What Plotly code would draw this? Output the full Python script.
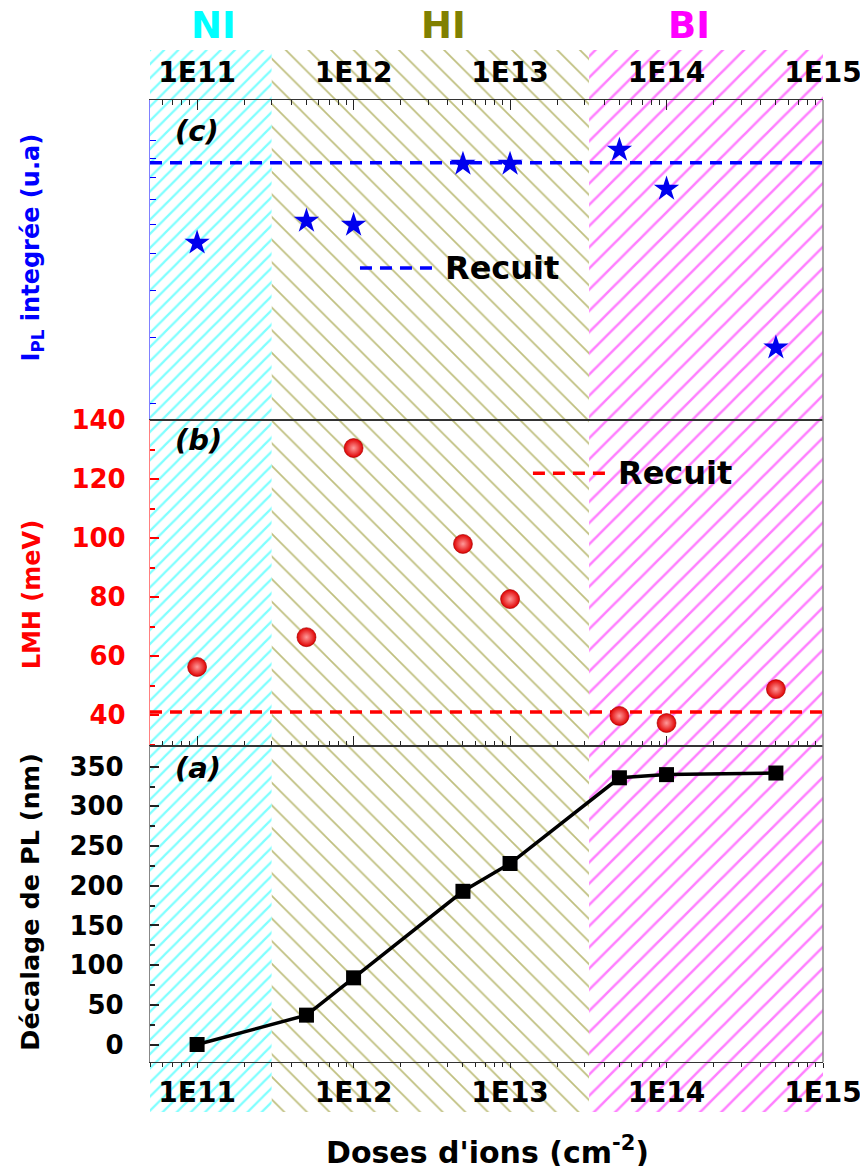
import numpy as np
import plotly.graph_objects as go

# ---------------- data ----------------
doses = [1e11, 5e11, 1e12, 5e12, 1e13, 5e13, 1e14, 5e14]
shift_nm = [0, 37, 84, 193, 228, 336, 340, 342]          # panel (a)
fwhm_mev = [56.3, 66.4, 130.5, 98, 79.3, 39.7, 37.3, 48.8]  # panel (b)
ipl_int = [5.35, 6.12, 5.97, 8.68, 8.68, 9.46, 7.45, 2.81]  # panel (c), u.a
recuit_fwhm = 41
recuit_ipl = 8.74

region_names = ["NI", "HI", "BI"]
region_edges = [5e10, 3e11, 3.2e13, 1e15]
region_label_x = [1.28e11, 3.74e12, 1.4e14]
region_colors = ["#00FFFF", "#808000", "#FF00FF"]
region_patterns = ["/", "\\", "/"]
region_sizes = [10, 16, 15]
region_solidity = [0.22, 0.11, 0.17]

x_tick_vals = [1e11, 1e12, 1e13, 1e14, 1e15]
x_tick_text = ["1E11", "1E12", "1E13", "1E14", "1E15"]
x_minor_vals = [m * 10.0 ** e for e in range(10, 15) for m in range(2, 10)]
ipl_tick_vals = [2, 3, 4, 5, 6, 7, 8, 9, 10]

FONT = "DejaVu Sans"
xr = [np.log10(region_edges[0]), np.log10(region_edges[-1])]

# domains (paper)
dom_a = [0.0471, 0.3446]
dom_b = [0.3446, 0.6516]
dom_c = [0.6516, 0.9529]

fig = go.Figure()

# ---------------- hatched background regions ----------------
for i, name in enumerate(region_names):
    x0, x1 = region_edges[i], region_edges[i + 1]
    fig.add_trace(go.Scatter(
        x=[x0, x1, x1, x0, x0], y=[0, 0, 1, 1, 0],
        xaxis="x", yaxis="y", mode="lines", line=dict(width=0),
        fill="toself", fillcolor="rgba(0,0,0,0)",
        fillpattern=dict(shape=region_patterns[i], fgcolor=region_colors[i],
                         bgcolor="white", size=region_sizes[i],
                         solidity=region_solidity[i]),
        hoverinfo="skip", showlegend=False))

# ---------------- panel (c) ----------------
fig.add_trace(go.Scatter(
    x=[region_edges[0], region_edges[-1]], y=[recuit_ipl, recuit_ipl],
    xaxis="x2", yaxis="y2", mode="lines",
    line=dict(color="#0000FF", width=3.5, dash="12px,8px"), showlegend=False))
fig.add_trace(go.Scatter(
    x=doses, y=ipl_int, xaxis="x2", yaxis="y2", mode="markers",
    marker=dict(symbol="star", size=19, color="#0000EE",
                line=dict(width=0)), showlegend=False))

# ---------------- panel (b) ----------------
fig.add_trace(go.Scatter(
    x=[region_edges[0], region_edges[-1]], y=[recuit_fwhm, recuit_fwhm],
    xaxis="x3", yaxis="y3", mode="lines",
    line=dict(color="#FF0000", width=3.5, dash="12px,8px"), showlegend=False))
fig.add_trace(go.Scatter(
    x=doses, y=fwhm_mev, xaxis="x3", yaxis="y3", mode="markers",
    marker=dict(symbol="circle", size=19, color="#E00000",
                gradient=dict(type="radial", color="#FF9A9A"),
                line=dict(width=0.6, color="#A00000")), showlegend=False))

# ---------------- panel (a) ----------------
fig.add_trace(go.Scatter(
    x=doses, y=shift_nm, xaxis="x4", yaxis="y4", mode="lines+markers",
    line=dict(color="black", width=3.5),
    marker=dict(symbol="square", size=15, color="black"), showlegend=False))

# ---------------- axes ----------------
common_x = dict(type="log", range=xr, domain=[0, 1], showgrid=False,
                zeroline=False, showline=True, linecolor="#333", linewidth=1.2,
                tickvals=x_tick_vals, ticktext=x_tick_text, ticklen=10,
                tickcolor="#222", tickwidth=1.3,
                tickfont=dict(family=FONT, size=28, color="black", weight="bold"),
                minor=dict(tickvals=x_minor_vals, ticklen=5, tickcolor="#222",
                           tickwidth=1, ticks="inside"))

fig.update_layout(
    width=868, height=1158,
    margin=dict(l=142, r=53, t=42, b=54),
    paper_bgcolor="white", plot_bgcolor="rgba(0,0,0,0)",
    showlegend=False,
    xaxis=dict(type="log", range=xr, domain=[0, 1], visible=False, anchor="y"),
    yaxis=dict(range=[0, 1], domain=[0, 1], visible=False, anchor="x"),
    xaxis2=dict(common_x, anchor="y2", side="top", ticks="inside", mirror=True,
                showticklabels=True, ticklabelstandoff=6),
    xaxis3=dict(common_x, anchor="y3", ticks="inside", mirror=True,
                showticklabels=False),
    xaxis4=dict(common_x, anchor="y4", ticks="outside", mirror=True,
                showticklabels=True, ticklen=5, ticklabelstandoff=0,
                minor=dict(tickvals=x_minor_vals, ticklen=4, tickcolor="#222",
                           tickwidth=1, ticks="outside")),
    yaxis2=dict(type="log", range=[0.256, 1.109], domain=dom_c, anchor="x2",
                showgrid=False, zeroline=False, showline=True,
                linecolor="#8080FF", linewidth=1.2, ticks="inside",
                tickvals=ipl_tick_vals, ticklen=6, tickcolor="#0000FF",
                showticklabels=False),
    yaxis3=dict(range=[29.5, 140], domain=dom_b, anchor="x3", showgrid=False,
                zeroline=False, showline=True, linecolor="#FF8080", linewidth=1.2,
                ticks="inside", dtick=20, tick0=0, ticklen=9, tickcolor="#FF0000",
                tickwidth=1.5, ticklabelstandoff=18,
                tickfont=dict(family=FONT, size=26, color="#FF0000", weight="bold"),
                minor=dict(dtick=10, ticks="inside", ticklen=5, tickcolor="#FF0000")),
    yaxis4=dict(range=[-22, 376], domain=dom_a, anchor="x4", showgrid=False,
                zeroline=False, showline=True, linecolor="#888", linewidth=1.2,
                ticks="inside", dtick=50, tick0=0, ticklen=9, tickcolor="#222",
                tickwidth=1.5, ticklabelstandoff=20,
                tickfont=dict(family=FONT, size=26, color="black", weight="bold"),
                minor=dict(dtick=25, ticks="inside", ticklen=5, tickcolor="#222")),
)

# right border line
fig.add_shape(type="line", xref="paper", yref="paper", x0=1, x1=1,
              y0=dom_a[0], y1=dom_c[1], line=dict(color="#888", width=1.5))

# legend keys ("Recuit")
fig.add_shape(type="line", xref="x2 domain", yref="y2 domain",
              x0=0.312, x1=0.419, y0=0.475, y1=0.475,
              line=dict(color="#0000FF", width=3.5, dash="12px,8px"))
fig.add_annotation(xref="x2 domain", yref="y2 domain", x=0.436, y=0.475,
                   text="<b>Recuit</b>", showarrow=False, xanchor="left",
                   yanchor="middle", font=dict(family=FONT, size=32, color="black"))
fig.add_shape(type="line", xref="x3 domain", yref="y3 domain",
              x0=0.569, x1=0.676, y0=0.837, y1=0.837,
              line=dict(color="#FF0000", width=3.5, dash="12px,8px"))
fig.add_annotation(xref="x3 domain", yref="y3 domain", x=0.692, y=0.837,
                   text="<b>Recuit</b>", showarrow=False, xanchor="left",
                   yanchor="middle", font=dict(family=FONT, size=32, color="black"))

# panel letters
for ax, yy, lab in [("2", 0.903, "(c)"), ("3", 0.939, "(b)"), ("4", 0.930, "(a)")]:
    fig.add_annotation(xref=f"x{ax} domain", yref=f"y{ax} domain", x=0.034, y=yy,
                       text=f"<b><i>{lab}</i></b>", showarrow=False, xanchor="left",
                       yanchor="middle", font=dict(family=FONT, size=29, color="black"))

# region labels
for name, lx, col in zip(region_names, region_label_x, region_colors):
    fig.add_annotation(xref="x", yref="paper", x=np.log10(lx), y=1.0235,
                       text=f"<b>{name}</b>", showarrow=False, xanchor="center",
                       yanchor="middle", font=dict(family=FONT, size=37, color=col))

# y titles
fig.add_annotation(xref="paper", yref="y2 domain", x=-0.175, y=0.54,
                   text="<b>I<sub>PL</sub> integrée (u.a)</b>", showarrow=False,
                   textangle=-90, xanchor="center", yanchor="middle",
                   font=dict(family=FONT, size=24, color="#0000FF"))
fig.add_annotation(xref="paper", yref="y3 domain", x=-0.175, y=0.463,
                   text="<b>LMH (meV)</b>", showarrow=False, textangle=-90,
                   xanchor="center", yanchor="middle",
                   font=dict(family=FONT, size=24, color="#FF0000"))
fig.add_annotation(xref="paper", yref="y4 domain", x=-0.178, y=0.505,
                   text="<b>Décalage de PL (nm)</b>", showarrow=False, textangle=-90,
                   xanchor="center", yanchor="middle",
                   font=dict(family=FONT, size=25.5, color="black"))

# x title
fig.add_annotation(xref="paper", yref="paper", x=0.502, y=-0.036,
                   text="<b>Doses d'ions (cm<sup>-2</sup>)</b>", showarrow=False,
                   xanchor="center", yanchor="middle",
                   font=dict(family=FONT, size=30, color="black"))

fig.write_html("out.html")
